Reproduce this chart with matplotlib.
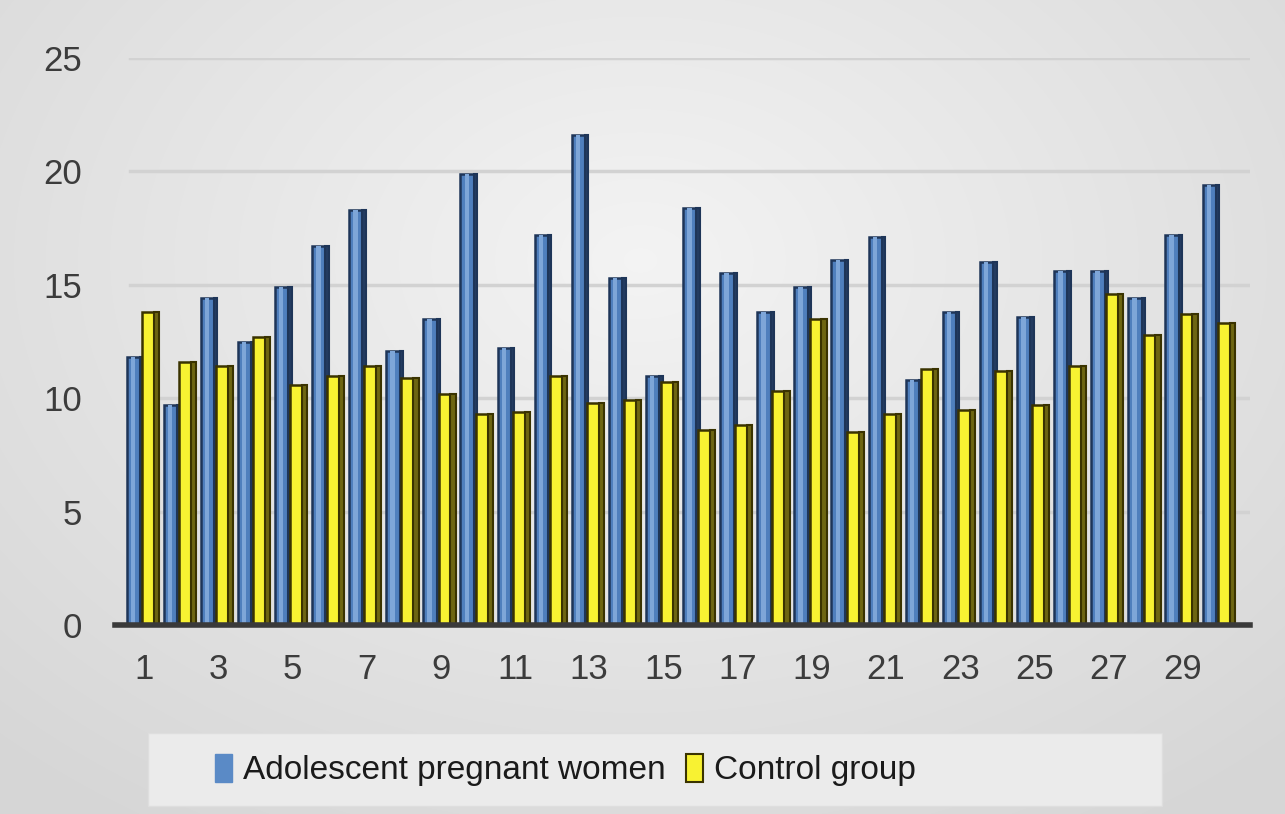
import numpy as np
import matplotlib.pyplot as plt
from matplotlib.patches import Rectangle

# Values per subject
subjects = list(range(1, 31))
adolescent = [11.8, 9.7, 14.4, 12.5, 14.9, 16.7, 18.3, 12.1, 13.5, 19.9,
              12.2, 17.2, 21.6, 15.3, 11.0, 18.4, 15.5, 13.8, 14.9, 16.1,
              17.1, 10.8, 13.8, 16.0, 13.6, 15.6, 15.6, 14.4, 17.2, 19.4]
control = [13.8, 11.6, 11.4, 12.7, 10.6, 11.0, 11.4, 10.9, 10.2, 9.3,
           9.4, 11.0, 9.8, 9.9, 10.7, 8.6, 8.8, 10.3, 13.5, 8.5,
           9.3, 11.3, 9.5, 11.2, 9.7, 11.4, 14.6, 12.8, 13.7, 13.3]
yticks = [0, 5, 10, 15, 20, 25]
xlabels = [str(s) if s % 2 == 1 else '' for s in subjects]
series_names = ['Adolescent pregnant women', 'Control group']

plt.rcParams['font.family'] = ['Liberation Sans', 'DejaVu Sans']

W, H = 1285, 814
fig = plt.figure(figsize=(W / 100, H / 100), dpi=100)

# soft gray backdrop, brighter towards the upper middle
bg = fig.add_axes([0, 0, 1, 1], zorder=-10)
yy, xx = np.mgrid[0:H, 0:W]
d = np.sqrt(((xx - 640) / 900.0) ** 2 + ((yy - 260) / 650.0) ** 2)
shade = np.clip(0.955 - 0.11 * d, 0.84, 0.96)
bg.imshow(np.dstack([shade] * 3), aspect='auto', extent=[0, 1, 0, 1])
bg.axis('off')

ax = fig.add_axes([115 / W, (H - 625) / H, (1250 - 115) / W, (625 - 58) / H])
ax.patch.set_alpha(0)

x = np.array(subjects, dtype=float)

# blue series: front face, highlight, side
ax.bar(x - 0.47, adolescent, width=0.36, align='edge', color='#4f7fbd',
       edgecolor='#1e3558', linewidth=1.8, zorder=3)
ax.bar(x - 0.36, adolescent, width=0.12, align='edge', color='#7ea6d8',
       linewidth=0, zorder=3.1)
ax.bar(x - 0.11, adolescent, width=0.09, align='edge', color='#243c61',
       edgecolor='#1e3558', linewidth=1.5, zorder=3)

# yellow series: front face and darker side
ax.bar(x - 0.06, control, width=0.32, align='edge', color='#f8f232',
       edgecolor='#3a3300', linewidth=1.8, zorder=4)
ax.bar(x + 0.26, control, width=0.14, align='edge', color='#6e6612',
       edgecolor='#3a3300', linewidth=1.5, zorder=4)

ax.set_xlim(0.22, 30.81)
ax.set_ylim(0, 25)
ax.set_yticks(yticks)
ax.set_xticks(x)
ax.set_xticklabels(xlabels)
ax.tick_params(length=0, labelsize=25, colors='#3c3c3c')
ax.tick_params(axis='y', pad=24)
ax.tick_params(axis='x', pad=20)

for v in yticks[1:]:
    ax.axhline(v, xmin=0.013, xmax=1, color='#d2d2d2', linewidth=2.5, zorder=1)
for s in ['top', 'right', 'left']:
    ax.spines[s].set_visible(False)
ax.spines['bottom'].set_color('#3a3a3a')
ax.spines['bottom'].set_linewidth(4)
ax.spines['bottom'].set_zorder(5)

# legend panel
fig.patches.append(Rectangle((148 / W, (H - 806) / H), (1162 - 148) / W, 73 / H,
                             transform=fig.transFigure, facecolor='#ebebeb',
                             edgecolor='#dedede', linewidth=1, zorder=-5))
handles = [Rectangle((0, 0), 1, 1, facecolor='#5a8ac6', edgecolor='#5a8ac6'),
           Rectangle((0, 0), 1, 1, facecolor='#f8f232', edgecolor='#3a3300', linewidth=1.5)]
fig.legend(handles, series_names, loc='center left', bbox_to_anchor=(215 / W, (H - 770) / H),
           ncol=2, frameon=False, fontsize=24, handlelength=0.5, handleheight=0.9,
           handletextpad=0.35, columnspacing=0.6, labelcolor='#1a1a1a',
           borderpad=0, borderaxespad=0)

fig.savefig('out.png', dpi=100)
